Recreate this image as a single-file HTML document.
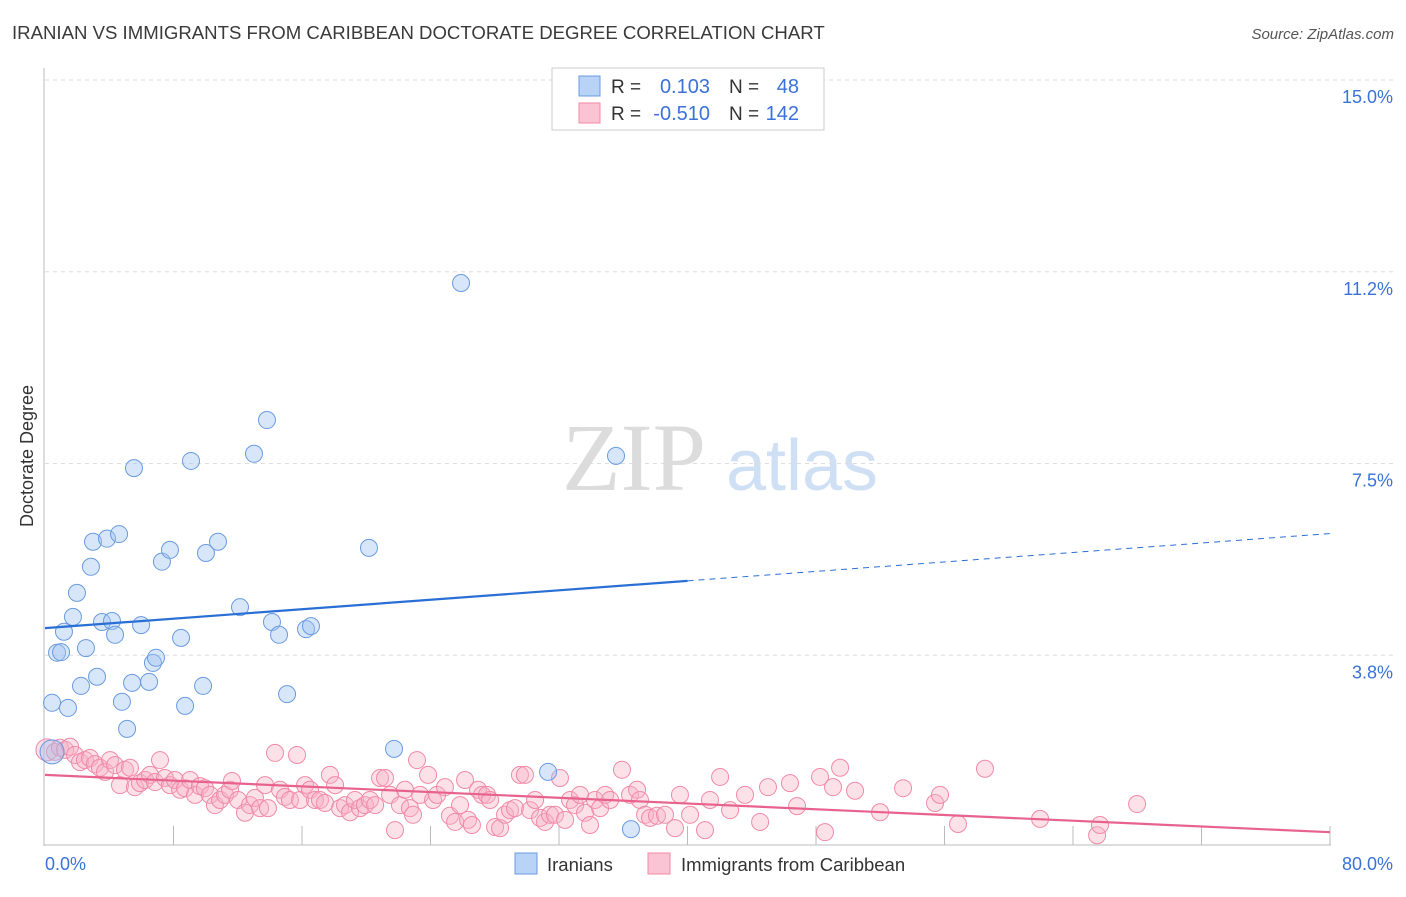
<!DOCTYPE html>
<html><head><meta charset="utf-8">
<style>
html,body{margin:0;padding:0;background:#fff;}
body{width:1406px;height:892px;overflow:hidden;font-family:"Liberation Sans",sans-serif;}
</style></head>
<body>
<svg id="chart" width="1406" height="892" xmlns="http://www.w3.org/2000/svg" style="font-family:'Liberation Sans',sans-serif">
<text x="12" y="39" font-size="18.6" fill="#3a3a3a">IRANIAN VS IMMIGRANTS FROM CARIBBEAN DOCTORATE DEGREE CORRELATION CHART</text>
<text x="1394" y="39" font-size="15" fill="#555" font-style="italic" text-anchor="end">Source: ZipAtlas.com</text>
<g>
<text x="634" y="490" font-size="96" fill="#dcdcdc" font-family="Liberation Serif,serif" text-anchor="middle">ZIP</text>
<text x="802" y="490" font-size="72" fill="#cfe0f5" text-anchor="middle">atlas</text>
</g>
<g id="grid"></g>
<g id="axes"></g>
<g id="marks"></g>
<text transform="translate(33,456) rotate(-90)" font-size="18" fill="#333" text-anchor="middle">Doctorate Degree</text>
<g>
<rect x="552" y="68" width="272" height="62" fill="#fff" stroke="#ccc"/>
<rect x="579" y="76" width="21" height="20" fill="#b8d3f5" stroke="#6a9be0"/>
<rect x="579" y="103" width="21" height="20" fill="#fac4d4" stroke="#f08aa8"/>
<text x="611" y="93" font-size="19" fill="#333">R =</text>
<text x="710" y="93" font-size="20" fill="#3a72d8" text-anchor="end">0.103</text>
<text x="729" y="93" font-size="19" fill="#333">N =</text>
<text x="799" y="93" font-size="20" fill="#3a72d8" text-anchor="end">48</text>
<text x="611" y="120" font-size="19" fill="#333">R =</text>
<text x="710" y="120" font-size="20" fill="#3a72d8" text-anchor="end">-0.510</text>
<text x="729" y="120" font-size="19" fill="#333">N =</text>
<text x="799" y="120" font-size="20" fill="#3a72d8" text-anchor="end">142</text>
</g>
<g>
<rect x="515" y="853" width="22" height="21" fill="#b8d3f5" stroke="#6a9be0"/>
<text x="547" y="871" font-size="18.5" fill="#333">Iranians</text>
<rect x="648" y="853" width="22" height="21" fill="#fac4d4" stroke="#f08aa8"/>
<text x="681" y="871" font-size="18.5" fill="#333">Immigrants from Caribbean</text>
</g>
</svg>
<script>
const yTicks=[15.0,11.25,7.5,3.75];
const yTickLabels=["15.0%","11.2%","7.5%","3.8%"];
const xTicks=[8,16,24,32,40,48,56,64,72,80];
const xLabels=["0.0%","80.0%"];
const blueX=[0.44,1.43,0.75,1.0,1.18,1.74,1.99,2.24,2.55,2.86,2.99,3.24,3.55,3.86,4.17,4.36,4.61,4.79,5.11,5.42,5.54,5.98,6.48,6.72,6.91,7.28,7.78,8.47,8.72,9.09,9.84,10.02,10.77,12.14,13.01,13.82,14.13,14.57,15.07,16.25,16.56,20.17,21.73,25.90,31.32,35.55,36.48,0.44];
const blueY=[2.82,2.72,3.80,3.81,4.21,4.50,4.97,3.15,3.89,5.48,5.97,3.33,4.40,6.03,4.42,4.15,6.12,2.84,2.31,3.21,7.41,4.34,3.23,3.60,3.70,5.58,5.81,4.09,2.76,7.55,3.15,5.75,5.97,4.69,7.69,8.35,4.40,4.15,2.99,4.26,4.32,5.85,1.92,11.03,1.47,7.65,0.35,1.86];
const pinkX=[0.12,0.62,0.93,1.25,1.56,1.87,2.18,2.49,2.80,3.11,3.42,3.74,4.05,4.36,4.67,4.98,5.29,5.60,5.91,6.23,6.54,6.85,7.16,7.47,7.78,8.09,8.41,8.72,9.03,9.34,9.65,9.96,10.27,10.58,10.90,11.21,11.52,11.64,12.02,12.45,12.76,13.07,13.39,13.70,13.88,14.32,14.63,14.94,15.25,15.69,15.88,16.19,16.50,16.81,17.12,17.43,17.74,18.06,18.37,18.68,18.99,19.30,19.61,19.92,20.23,20.55,20.86,21.17,21.48,21.79,22.10,22.41,22.72,22.91,23.16,23.35,23.85,24.16,24.41,24.90,25.21,25.53,25.84,26.15,26.34,26.58,26.96,27.21,27.52,27.71,28.02,28.33,28.64,28.95,29.26,29.57,29.88,30.20,30.51,30.82,31.13,31.44,31.75,32.06,32.38,32.69,33.00,33.31,33.62,33.93,34.24,34.56,34.87,35.18,35.92,36.42,36.86,37.04,37.36,37.67,38.10,38.60,39.22,39.53,40.16,41.09,41.40,42.03,42.65,43.58,44.52,45.01,46.38,46.82,48.25,48.56,49.06,49.50,50.43,51.99,53.42,55.41,55.72,56.84,58.52,61.95,65.50,65.68,67.99];
const pinkY=[1.90,1.86,1.94,1.90,1.96,1.80,1.66,1.70,1.74,1.62,1.55,1.47,1.70,1.60,1.21,1.51,1.55,1.17,1.25,1.31,1.41,1.27,1.70,1.35,1.21,1.31,1.12,1.15,1.31,1.02,1.19,1.15,1.02,0.82,0.92,1.02,1.12,1.29,0.92,0.67,0.82,0.96,0.76,1.21,0.76,1.84,1.12,0.98,0.92,1.80,0.92,1.21,1.12,0.92,0.92,0.86,1.41,1.21,0.76,0.82,0.68,0.92,0.76,0.82,0.92,0.82,1.35,1.35,1.02,0.33,0.82,1.12,0.76,0.63,1.70,1.02,1.41,0.92,1.02,1.17,0.61,0.49,0.82,1.31,0.53,0.43,1.12,1.02,1.02,0.92,0.39,0.37,0.63,0.72,0.76,1.41,1.41,0.72,0.92,0.57,0.49,0.63,0.63,1.35,0.53,0.92,0.82,1.02,0.67,0.43,0.92,0.76,1.02,0.92,1.51,1.02,1.12,0.92,0.63,0.57,0.61,0.63,0.37,1.02,0.63,0.33,0.92,1.37,0.72,1.02,0.49,1.17,1.25,0.80,1.37,0.29,1.17,1.55,1.10,0.68,1.15,0.86,1.02,0.45,1.53,0.55,0.23,0.43,0.84];
const blueTrend=[4.28,6.13];
const pinkTrend=[1.41,0.29];
const blueSolidEnd=40;

const NS="http://www.w3.org/2000/svg";
const X0=45,X1=1330,Y0=847,YTOP=80;
function sx(v){return X0+(v/80)*(X1-X0);}
function sy(v){return Y0-(v/15)*(Y0-YTOP);}
function mk(tag,attrs,parent){const e=document.createElementNS(NS,tag);for(const k in attrs)e.setAttribute(k,attrs[k]);parent.appendChild(e);return e;}
const grid=document.getElementById('grid'),axes=document.getElementById('axes'),marks=document.getElementById('marks');
yTicks.forEach((t,i)=>{
  const l=mk('line',{x1:45,x2:1395,y1:sy(t),y2:sy(t),stroke:'#ddd','stroke-dasharray':'4,4'},grid);
  
  
  const tx=mk('text',{x:1393,y:sy(t)+23,'font-size':18,fill:'#3a72d8','text-anchor':'end'},axes);
  tx.textContent=yTickLabels[i];
  
  
});
const ya=mk('line',{x1:44,x2:44,y1:68,y2:846,stroke:'#bbb'},axes);


const xa=mk('line',{x1:44,x2:1331,y1:845,y2:845,stroke:'#bbb'},axes);


xTicks.forEach(t=>{
  const l=mk('line',{x1:sx(t),x2:sx(t),y1:826,y2:845,stroke:'#bbb'},axes);
  
  
});
const xl0=mk('text',{x:45,y:870,'font-size':18,fill:'#3a72d8'},axes);xl0.textContent=xLabels[0];


const xl1=mk('text',{x:1393,y:870,'font-size':18,fill:'#3a72d8','text-anchor':'end'},axes);xl1.textContent=xLabels[1];



pinkX.forEach((v,i)=>{
  const c=mk('circle',{cx:sx(v),cy:sy(pinkY[i]),r:i===0?11:8.5,fill:'rgba(248,175,198,0.38)',stroke:'#f08aa8','stroke-width':1},marks);
  
  
});
blueX.forEach((v,i)=>{
  const c=mk('circle',{cx:sx(v),cy:sy(blueY[i]),r:i===blueX.length-1?12:8.5,fill:'rgba(160,195,240,0.42)',stroke:'#6a9be0','stroke-width':1},marks);
  
  
});
function ty(tr,x){return tr[0]+(tr[1]-tr[0])*x/80;}
const bl=mk('line',{x1:sx(0),y1:sy(ty(blueTrend,0)),x2:sx(blueSolidEnd),y2:sy(ty(blueTrend,blueSolidEnd)),stroke:'#2a6fd6','stroke-width':2.2},marks);


const bd=mk('line',{x1:sx(blueSolidEnd),y1:sy(ty(blueTrend,blueSolidEnd)),x2:sx(80),y2:sy(ty(blueTrend,80)),stroke:'#2a6fd6','stroke-width':1,'stroke-dasharray':'6,5'},marks);


const pl=mk('line',{x1:sx(0),y1:sy(pinkTrend[0]),x2:sx(80),y2:sy(pinkTrend[1]),stroke:'#e8628e','stroke-width':2.2},marks);


</script>
</body></html>
